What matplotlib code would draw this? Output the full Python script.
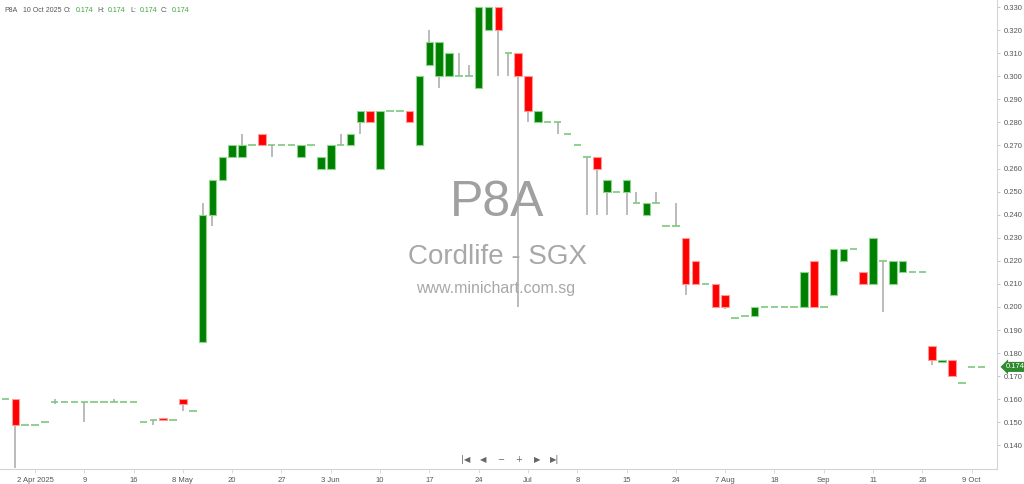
import numpy as np
import matplotlib
matplotlib.use('Agg')
import matplotlib.pyplot as plt
import matplotlib.transforms as mtransforms

# ================= data =================
# one row per trading session shown (oldest first), 10 Oct 2025 is last
opens = [0.160, 0.160, 0.149, 0.149, 0.150, 0.159, 0.159, 0.159, 0.159, 0.159,
         0.159, 0.159, 0.159, 0.159, 0.150, 0.151, 0.152, 0.151, 0.160, 0.155,
         0.185, 0.240, 0.255, 0.265, 0.265, 0.270, 0.275, 0.270, 0.270, 0.270,
         0.265, 0.270, 0.260, 0.260, 0.270, 0.270, 0.280, 0.285, 0.260, 0.285,
         0.285, 0.285, 0.270, 0.305, 0.300, 0.300, 0.300, 0.300, 0.295, 0.320,
         0.330, 0.310, 0.310, 0.300, 0.280, 0.280, 0.280, 0.275, 0.270, 0.265,
         0.265, 0.250, 0.250, 0.250, 0.245, 0.240, 0.245, 0.235, 0.235, 0.230,
         0.220, 0.210, 0.210, 0.205, 0.195, 0.196, 0.196, 0.200, 0.200, 0.200,
         0.200, 0.200, 0.220, 0.200, 0.205, 0.220, 0.225, 0.215, 0.210, 0.220,
         0.210, 0.215, 0.215, 0.215, 0.183, 0.176, 0.177, 0.167, 0.174, 0.174]
highs = [0.160, 0.160, 0.149, 0.149, 0.150, 0.160, 0.159, 0.159, 0.159, 0.159,
         0.159, 0.160, 0.159, 0.159, 0.150, 0.151, 0.152, 0.151, 0.160, 0.155,
         0.245, 0.255, 0.265, 0.270, 0.275, 0.270, 0.275, 0.270, 0.270, 0.270,
         0.270, 0.270, 0.265, 0.270, 0.275, 0.275, 0.285, 0.285, 0.285, 0.285,
         0.285, 0.285, 0.300, 0.320, 0.315, 0.310, 0.310, 0.305, 0.330, 0.330,
         0.330, 0.310, 0.310, 0.300, 0.285, 0.280, 0.280, 0.275, 0.270, 0.265,
         0.265, 0.255, 0.250, 0.255, 0.250, 0.245, 0.250, 0.235, 0.245, 0.230,
         0.220, 0.210, 0.210, 0.205, 0.195, 0.196, 0.200, 0.200, 0.200, 0.200,
         0.200, 0.215, 0.220, 0.200, 0.225, 0.225, 0.225, 0.215, 0.230, 0.220,
         0.220, 0.220, 0.215, 0.215, 0.183, 0.177, 0.177, 0.167, 0.174, 0.174]
lows = [0.160, 0.130, 0.149, 0.149, 0.150, 0.158, 0.159, 0.159, 0.150, 0.159,
        0.159, 0.159, 0.159, 0.159, 0.150, 0.149, 0.151, 0.151, 0.155, 0.155,
        0.185, 0.235, 0.255, 0.265, 0.265, 0.270, 0.270, 0.265, 0.270, 0.270,
        0.265, 0.270, 0.260, 0.260, 0.270, 0.270, 0.275, 0.280, 0.260, 0.285,
        0.285, 0.280, 0.270, 0.305, 0.295, 0.300, 0.300, 0.300, 0.295, 0.320,
        0.300, 0.300, 0.200, 0.280, 0.280, 0.280, 0.275, 0.275, 0.270, 0.240,
        0.240, 0.240, 0.250, 0.240, 0.245, 0.240, 0.245, 0.235, 0.235, 0.205,
        0.210, 0.210, 0.200, 0.199, 0.195, 0.196, 0.196, 0.200, 0.200, 0.200,
        0.200, 0.200, 0.200, 0.200, 0.205, 0.220, 0.225, 0.210, 0.210, 0.198,
        0.210, 0.215, 0.215, 0.215, 0.175, 0.176, 0.170, 0.167, 0.174, 0.174]
closes = [0.160, 0.149, 0.149, 0.149, 0.150, 0.159, 0.159, 0.159, 0.159, 0.159,
          0.159, 0.159, 0.159, 0.159, 0.150, 0.151, 0.151, 0.151, 0.158, 0.155,
          0.240, 0.255, 0.265, 0.270, 0.270, 0.270, 0.270, 0.270, 0.270, 0.270,
          0.270, 0.270, 0.265, 0.270, 0.270, 0.275, 0.285, 0.280, 0.285, 0.285,
          0.285, 0.280, 0.300, 0.315, 0.315, 0.310, 0.300, 0.300, 0.330, 0.330,
          0.320, 0.310, 0.300, 0.285, 0.285, 0.280, 0.280, 0.275, 0.270, 0.265,
          0.260, 0.255, 0.250, 0.255, 0.245, 0.245, 0.245, 0.235, 0.235, 0.210,
          0.210, 0.210, 0.200, 0.200, 0.195, 0.196, 0.200, 0.200, 0.200, 0.200,
          0.200, 0.215, 0.200, 0.200, 0.225, 0.225, 0.225, 0.210, 0.230, 0.220,
          0.220, 0.220, 0.215, 0.215, 0.177, 0.177, 0.170, 0.167, 0.174, 0.174]

# session index of each date label (0 = 2 Apr 2025)
tick_idx = [0, 5, 10, 15, 20, 25, 30, 35, 40, 45, 50, 55, 60, 65, 70, 75, 80, 85, 90, 95]
tick_labels = ["2 Apr 2025", "9", "16", "8 May", "20", "27", "3 Jun", "10", "17", "24",
               "Jul", "8", "15", "24", "7 Aug", "18", "Sep", "11", "26", "9 Oct"]
y_ticks = [0.14, 0.15, 0.16, 0.17, 0.18, 0.19, 0.20, 0.21, 0.22, 0.23,
           0.24, 0.25, 0.26, 0.27, 0.28, 0.29, 0.30, 0.31, 0.32, 0.33]

symbol = "P8A"
last_date = "10 Oct 2025"
last_price = 0.174

# ================= colours =================
UP = '#008000'
UP_EDGE = '#8fd48f'
DOWN = '#ff0000'
DOWN_EDGE = '#ff9a9a'
FLAT = '#7cc87c'
WICK = '#a8a8a8'
AXIS = '#d4d4d4'
TXT = '#555555'
VAL = '#3aa53a'

plt.rcParams['font.family'] = ['Liberation Sans', 'DejaVu Sans']

fig = plt.figure(figsize=(10.24, 4.84), dpi=100)
ax = fig.add_axes([0, 15 / 484, 997 / 1024, 469 / 484])

o = np.array(opens)
h = np.array(highs)
l = np.array(lows)
c = np.array(closes)
x = np.arange(len(o)) - 3  # three sessions before 2 Apr

width = 0.76
ax.vlines(x, l, h, color=WICK, lw=1.1, zorder=2)

up = c > o
down = c < o
flat = c == o
ax.bar(x[up], (c - o)[up], bottom=o[up], width=width, color=UP,
       edgecolor=UP_EDGE, linewidth=0.8, zorder=3)
ax.bar(x[down], (o - c)[down], bottom=c[down], width=width, color=DOWN,
       edgecolor=DOWN_EDGE, linewidth=0.8, zorder=3)
ax.hlines(o[flat], x[flat] - width / 2, x[flat] + width / 2, color=FLAT,
          lw=1.2, zorder=3)

ax.set_xlim(-3.55, 97.57)
ax.set_ylim(0.12974, 0.33307)

# axes styling
for side in ['top', 'left']:
    ax.spines[side].set_visible(False)
ax.spines['right'].set_color(AXIS)
ax.spines['bottom'].set_color(AXIS)
ax.yaxis.tick_right()
ax.set_yticks(y_ticks)
ax.set_yticklabels([f"{v:.3f}" for v in y_ticks])
ax.tick_params(axis='y', length=2, width=0.6, color='#bbbbbb', labelsize=5.5,
               labelcolor=TXT, pad=3)
ax.set_xticks(tick_idx)
ax.set_xticklabels(tick_labels)
ax.tick_params(axis='x', length=3, width=0.6, color=AXIS, labelsize=5.5,
               labelcolor=TXT, pad=3)

# watermark
fig.text(497 / 1024, 1 - 203 / 484, symbol, ha='center', va='center',
         fontsize=36, color='#a0a0a0', zorder=1)
fig.text(497 / 1024, 1 - 257 / 484, "Cordlife - SGX", ha='center', va='center',
         fontsize=20, color='#a8a8a8', zorder=1)
fig.text(496 / 1024, 1 - 289 / 484, "www.minichart.com.sg", ha='center',
         va='center', fontsize=11.5, color='#a8a8a8', zorder=1)
ax.set_zorder(2)
ax.patch.set_alpha(0)

# header line
hdr = [(4, symbol, TXT), (23, last_date, TXT), (64, "O:", TXT),
       (76, f"{last_price:.3f}", VAL), (97, "H:", TXT), (108, f"{last_price:.3f}", VAL),
       (130, "L:", TXT), (140, f"{last_price:.3f}", VAL), (161, "C:", TXT),
       (172, f"{last_price:.3f}", VAL)]
for px, s, col in hdr:
    fig.text(px / 1024, 1 - 11 / 484, s, ha='left', va='center', fontsize=5.0,
             color=col)

# navigation buttons
nav = [(466, "|◀"), (483, "◀"), (501, "−"), (519, "+"), (537, "▶"), (555, "▶|")]
for px, s in nav:
    fig.text(px / 1024, 1 - 460 / 484, s, ha='center', va='center', fontsize=6,
             color='#666666', family=['DejaVu Sans'])

# last price tag on the axis
trans = mtransforms.blended_transform_factory(ax.transAxes, ax.transData)
ax.text(1.009, last_price, f"{last_price:.3f}", transform=trans, ha='left',
        va='center', fontsize=5.5, color='white', clip_on=False,
        bbox=dict(boxstyle='larrow,pad=0.2', fc='#2e8b2e', ec='none'))

fig.savefig('out.png', dpi=100)
